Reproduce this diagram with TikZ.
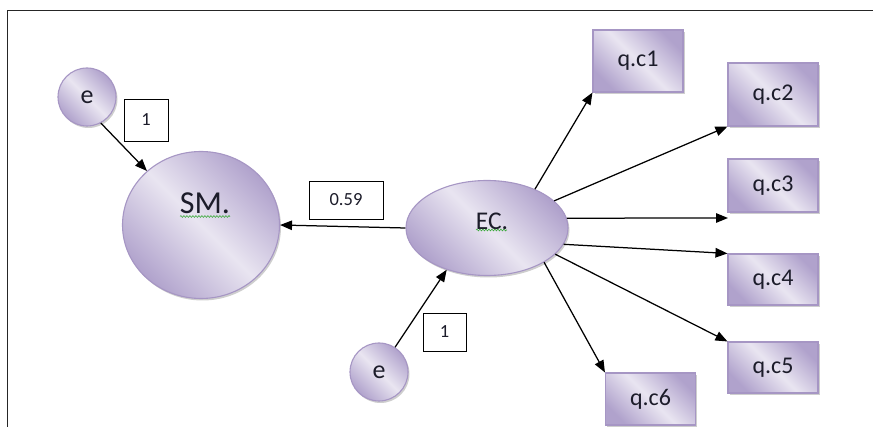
\documentclass[tikz,border=0pt]{standalone}
\usepackage{fontspec}
\setmainfont{Carlito}
\usetikzlibrary{shapes.geometric,arrows.meta,shadows,decorations.pathmorphing}
\definecolor{pdark}{HTML}{B0A2CC}
\definecolor{plight}{HTML}{E9E5F1}
\definecolor{pborder}{HTML}{A696C4}
\definecolor{spell}{HTML}{3DAA3D}
\definecolor{ink}{HTML}{1C1C2A}
\tikzset{
  purp/.style={draw=pborder, line width=1.1pt, top color=pdark, bottom color=pdark, middle color=plight, shading angle=-45,
    text=ink,
    drop shadow={shadow xshift=1.5pt, shadow yshift=-2pt, fill=gray!70, opacity=0.55}},
  errc/.style={purp, circle, minimum size=58pt, inner sep=0pt, font=\fontsize{26}{29}\selectfont},
  obsbox/.style={purp, rectangle, inner sep=0pt, minimum width=90pt, font=\fontsize{24}{27}\selectfont},
  latent/.style={purp, ellipse, inner sep=0pt},
  labbox/.style={draw=black, fill=white, line width=0.9pt, inner sep=0pt, text=ink, font=\fontsize{18.5}{20}\selectfont},
  arr/.style={line width=1.25pt, -{Triangle[length=12pt,width=9.5pt]}},
  wavy/.style={draw=spell, line width=0.6pt, decorate, decoration={snake, amplitude=0.9pt, segment length=3pt}},
  txt/.style={inner sep=0pt, text=ink}
}
\begin{document}
\begin{tikzpicture}[x=1pt,y=-1pt]
\useasboundingbox (0,0) rectangle (873,427);
\coordinate (fbl) at (7.3,427);
\coordinate (ftl) at (7.3,10.7);
\coordinate (ftr) at (873,10.7);
\draw[line width=1.5pt, draw=black!85] (fbl) -- (ftl) -- (ftr);

% latent variables
\node[latent, minimum width=157pt, minimum height=147pt] (SM) at (201,225) {};
\node[txt, font=\fontsize{32}{35}\selectfont] (SMt) at (205,203) {SM.};
\node[latent, minimum width=162pt, minimum height=95pt] (EC) at (487,228) {};
\node[txt, font=\fontsize{25.5}{28}\selectfont] (ECt) at (492,221) {EC.};

% spell-check underlines
\coordinate (w1a) at (180,216.5);
\coordinate (w1b) at (230,216.5);
\coordinate (w2a) at (476,230);
\coordinate (w2b) at (507,230);
\draw[wavy] (w1a) -- (w1b);
\draw[wavy] (w2a) -- (w2b);

% error terms
\node[errc] (e1) at (87,97) {e};
\node[errc] (e2) at (379,372) {e};

% observed variables
\node[obsbox, minimum height=62pt] (q1) at (638,61) {q.c1};
\node[obsbox, minimum height=63pt] (q2) at (773,94.5) {q.c2};
\node[obsbox, minimum height=53pt] (q3) at (773,185.5) {q.c3};
\node[obsbox, minimum height=51pt] (q4) at (773,279.5) {q.c4};
\node[obsbox, minimum height=51pt] (q5) at (773,367.5) {q.c5};
\node[obsbox, minimum height=52pt] (q6) at (650.5,399) {q.c6};

% labels
\node[labbox, minimum width=44pt, minimum height=42pt] (l1) at (146,120) {1};
\node[labbox, minimum width=74pt, minimum height=38pt] (l2) at (346,200) {0.59};
\node[labbox, minimum width=43pt, minimum height=38pt] (l3) at (444.5,332) {1};

% connectors
\coordinate (c3end) at (728,218);
\draw[arr] (e1.-62) -- (SM.135);
\draw[arr] (EC.west) -- (SM.east);
\draw[arr] (e2.57) -- (EC.-134);
\draw[arr] (EC.39) -- (q1.south west);
\draw[arr] (EC.22) -- (q2.south west);
\draw[arr] (EC.7) -- (c3end);
\draw[arr] (EC.-12) -- (q4.north west);
\draw[arr] (EC.-21.5) -- (q5.north west);
\draw[arr] (EC.-31) -- (q6.north west);
\end{tikzpicture}
\end{document}
